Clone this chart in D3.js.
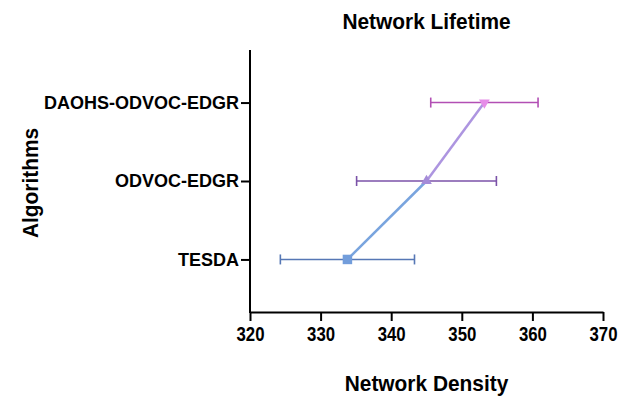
<!DOCTYPE html>
<html>
<head>
<meta charset="utf-8">
<script src="https://cdn.jsdelivr.net/npm/d3@7"></script>
<style>
  body { margin: 0; background: #fff; }
  text { font-family: "Liberation Sans", Arial, sans-serif; font-weight: bold; }
</style>
</head>
<body>
<div id="chart"></div>
<script>
// data
const algorithms = ["TESDA", "ODVOC-EDGR", "DAOHS-ODVOC-EDGR"];
const density    = [333.8, 345.0, 353.2];
const errLow     = [324.3, 335.1, 345.6];
const errHigh    = [343.3, 354.9, 360.8];
const xTicks     = [320, 330, 340, 350, 360, 370];

const barColors    = ["#5677b5", "#7b52a8", "#b24fb4"];
const markerColors = ["#729ddb", "#a58bd8", "#e68de8"];
const lineColors   = ["#79a4de", "#ad95e0"];

const W = 625, H = 396;
const margin = { top: 50, right: 22, bottom: 84, left: 250 };

const svg = d3.select("#chart").append("svg")
  .attr("width", W).attr("height", H);

const x = d3.scaleLinear()
  .domain([320, 370])
  .range([margin.left, W - margin.right]);

const y = d3.scalePoint()
  .domain(algorithms)
  .range([H - margin.bottom, margin.top])
  .padding(0.67);

// axes
const xAxis = svg.append("g")
  .attr("transform", `translate(0,${H - margin.bottom})`)
  .call(d3.axisBottom(x).tickValues(xTicks).tickSize(9).tickPadding(6).tickSizeOuter(0));

const yAxis = svg.append("g")
  .attr("transform", `translate(${margin.left},0)`)
  .call(d3.axisLeft(y).tickSize(9).tickPadding(2).tickSizeOuter(0));

[xAxis, yAxis].forEach(a => {
  a.select(".domain").attr("stroke", "#000").attr("stroke-width", 2);
  a.selectAll(".tick line").attr("stroke", "#000").attr("stroke-width", 2);
  a.selectAll(".tick text").attr("fill", "#000").style("font-size", "18px");
});
// x tick numbers: taller, narrower digits
xAxis.selectAll(".tick text")
  .style("font-size", "20px")
  .attr("dy", "0.72em")
  .attr("transform", "scale(0.84,1)");
// extend y axis line over the corner
yAxis.select(".domain").attr("d", `M0,${margin.top}V${H - margin.bottom + 1}`);

const pts = algorithms.map((a, i) => ({ a, v: density[i], lo: errLow[i], hi: errHigh[i], i }));

// connecting line, one segment per pair
for (let i = 0; i < pts.length - 1; i++) {
  svg.append("line")
    .attr("x1", x(pts[i].v)).attr("y1", y(pts[i].a))
    .attr("x2", x(pts[i + 1].v)).attr("y2", y(pts[i + 1].a))
    .attr("stroke", lineColors[i])
    .attr("stroke-width", 2.5);
}

// error bars
const eb = svg.append("g").selectAll("g").data(pts).join("g")
  .attr("stroke", d => barColors[d.i])
  .attr("stroke-width", 1.6);
eb.append("line")
  .attr("x1", d => x(d.lo)).attr("x2", d => x(d.hi))
  .attr("y1", d => y(d.a)).attr("y2", d => y(d.a));
eb.append("line")
  .attr("x1", d => x(d.lo)).attr("x2", d => x(d.lo))
  .attr("y1", d => y(d.a) - 5).attr("y2", d => y(d.a) + 5);
eb.append("line")
  .attr("x1", d => x(d.hi)).attr("x2", d => x(d.hi))
  .attr("y1", d => y(d.a) - 5).attr("y2", d => y(d.a) + 5);

// markers: square, triangle up, triangle down
const symbols = [d3.symbolSquare, d3.symbolTriangle, d3.symbolTriangle];
const symSize = [90, 50, 50];
svg.append("g").selectAll("path").data(pts).join("path")
  .attr("d", d => d3.symbol(symbols[d.i], symSize[d.i])())
  .attr("transform", d => `translate(${x(d.v)},${y(d.a)})` + (d.i === 2 ? " rotate(180)" : ""))
  .attr("fill", d => markerColors[d.i]);

// titles
function bigLabel(tx, ty, rot, str) {
  svg.append("text")
    .attr("transform", `translate(${tx},${ty})` + (rot ? ` rotate(${rot})` : "") + " scale(0.95,1)")
    .attr("text-anchor", "middle")
    .style("font-size", "22px")
    .text(str);
}
const cx = (margin.left + W - margin.right) / 2;
bigLabel(cx, 29, 0, "Network Lifetime");
bigLabel(cx, 391, 0, "Network Density");
bigLabel(38, (margin.top + H - margin.bottom) / 2 + 2, -90, "Algorithms");
</script>
</body>
</html>
